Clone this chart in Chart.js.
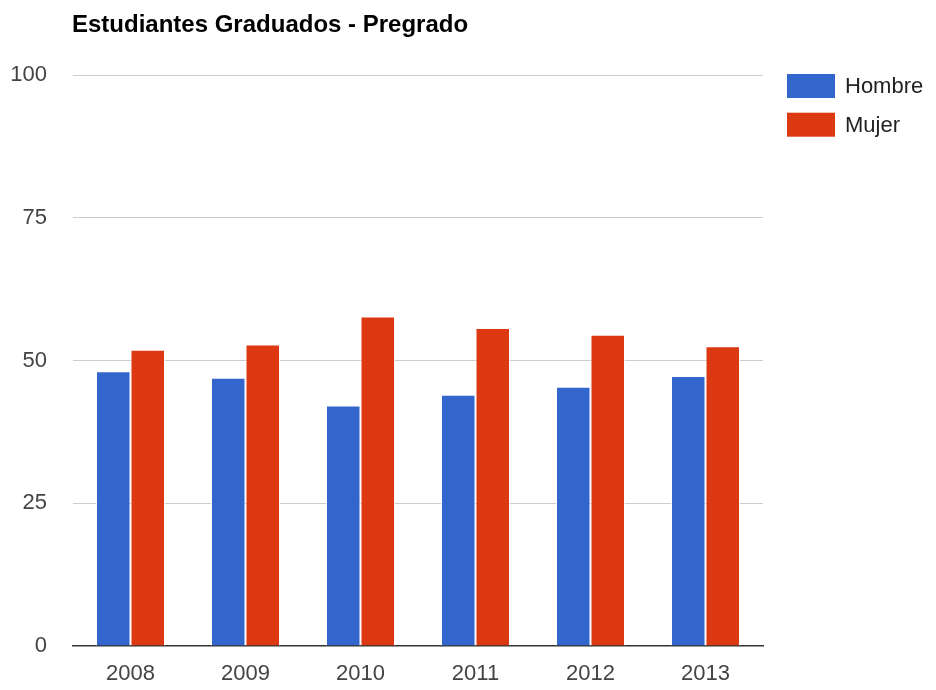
<!DOCTYPE html>
<html>
<head>
<meta charset="utf-8">
<script src="https://cdn.jsdelivr.net/npm/chart.js@4"></script>
<style>
  body { margin: 0; background: #fff; }
  #wrap { width: 936px; height: 690px; position: relative; }
</style>
</head>
<body>
<div id="wrap"><canvas id="chart1"></canvas></div>
<script>
const years = ['2008', '2009', '2010', '2011', '2012', '2013']
const hombre = [48.1, 47.0, 42.1, 44.0, 45.4, 47.3]
const mujer = [51.9, 52.8, 57.7, 55.7, 54.5, 52.5]
const yTicks = [0, 25, 50, 75, 100]

const titleText = 'Estudiantes Graduados - Pregrado'
const font = '"Liberation Sans", Arial, sans-serif'

// title + legend drawn by hand, google charts style
const googleBits = {
  id: 'googleBits',
  afterDraw(chart) {
    const ctx = chart.ctx
    ctx.save()
    ctx.fillStyle = '#000'
    ctx.font = 'bold 24px ' + font
    ctx.textBaseline = 'alphabetic'
    ctx.textAlign = 'left'
    ctx.fillText(titleText, 72, 32)

    ctx.font = '22px ' + font
    ctx.textBaseline = 'middle'
    chart.data.datasets.forEach((ds, i) => {
      const y = 74 + i * 38.7
      ctx.fillStyle = ds.backgroundColor
      ctx.fillRect(787, y, 48, 24)
      ctx.fillStyle = '#222'
      ctx.fillText(ds.label, 845, y + 13)
    })
    ctx.restore()
  }
}

new Chart(document.getElementById('chart1'), {
  type: 'bar',
  data: {
    labels: years,
    datasets: [{
      label: 'Hombre',
      data: hombre,
      backgroundColor: '#3366CC',
      borderColor: 'rgba(255,255,255,0.8)',
      borderWidth: 1
    }, {
      label: 'Mujer',
      data: mujer,
      backgroundColor: '#DC3912',
      borderColor: 'rgba(255,255,255,0.8)',
      borderWidth: 1
    }]
  },
  options: {
    responsive: true,
    maintainAspectRatio: false,
    animation: false,
    layout: { padding: { top: 75, right: 173, bottom: 0, left: 9 } },
    datasets: {
      bar: { categoryPercentage: 0.6, barPercentage: 1 }
    },
    plugins: {
      legend: { display: false },
      title: { display: false },
      tooltip: { enabled: false }
    },
    scales: {
      x: {
        afterFit: axis => { axis.height = 44 },
        grid: { display: false },
        border: { display: true, color: '#333', width: 1.5 },
        ticks: { color: '#444', font: { family: font, size: 22 }, padding: 7 }
      },
      y: {
        min: 0,
        max: 100,
        afterFit: axis => { axis.width = 64 },
        afterBuildTicks: axis => { axis.ticks = yTicks.map(v => ({ value: v })) },
        grid: {
          drawTicks: false,
          color: c => c.tick && c.tick.value === 0 ? 'rgba(0,0,0,0)' : '#ccc'
        },
        border: { display: false },
        ticks: { color: '#444', font: { family: font, size: 22 }, padding: 26 }
      }
    }
  },
  plugins: [googleBits]
})
</script>
</body>
</html>
